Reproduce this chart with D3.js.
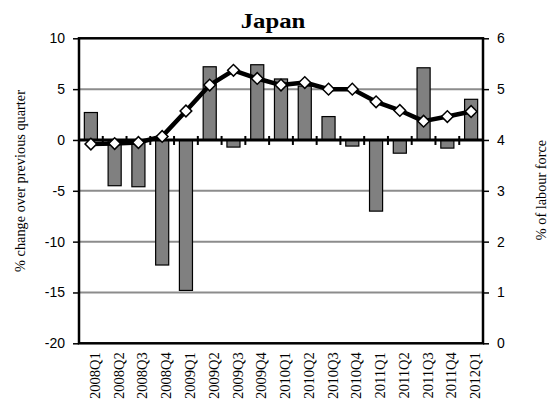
<!DOCTYPE html>
<html>
<head>
<meta charset="utf-8">
<script src="https://cdn.jsdelivr.net/npm/d3@7"></script>
<style>
  html, body { margin: 0; padding: 0; background: #fff; }
  svg { display: block; }
  .sans { font-family: 'Liberation Sans', Arial, sans-serif; }
  .serif { font-family: 'Liberation Serif', 'Times New Roman', serif; }
</style>
</head>
<body>
<svg id="chart" width="553" height="403"></svg>
<script>
const categories = ["2008Q1","2008Q2","2008Q3","2008Q4","2009Q1","2009Q2","2009Q3","2009Q4",
  "2010Q1","2010Q2","2010Q3","2010Q4","2011Q1","2011Q2","2011Q3","2011Q4","2012Q1"];
const changeValues = [2.7, -4.5, -4.6, -12.3, -14.8, 7.2, -0.7, 7.4, 6.0, 5.3, 2.3, -0.6, -7.0, -1.3, 7.1, -0.8, 4.0];
const unemploymentValues = [3.92, 3.93, 3.95, 4.07, 4.57, 5.08, 5.37, 5.21, 5.08, 5.13, 5.0, 5.0, 4.75, 4.58, 4.37, 4.46, 4.56];
const leftTicks = [-20, -15, -10, -5, 0, 5, 10];
const rightTicks = [0, 1, 2, 3, 4, 5, 6];
const title = "Japan";
const leftTitle = "% change over previous quarter";
const rightTitle = "% of labour force";

const svg = d3.select("#chart");
const L = 79, R = 483, T = 38.3, B = 343.3;

const x = d3.scaleBand().domain(categories).range([L, R]).paddingInner(0.45).paddingOuter(0.225);
const yL = d3.scaleLinear().domain([-20, 10]).range([B, T]);
const yR = d3.scaleLinear().domain([0, 6]).range([B, T]);
const fmt = d => String(d);

svg.append("rect").attr("width", 553).attr("height", 403).attr("fill", "#fff");

// gridlines
svg.append("g").selectAll("line").data(leftTicks.filter(d => d !== 0 && d !== 10 && d !== -20))
  .join("line")
  .attr("x1", L).attr("x2", R)
  .attr("y1", d => yL(d)).attr("y2", d => yL(d))
  .attr("stroke", "#8c8c8c").attr("stroke-width", 2);

// bars
svg.append("g").selectAll("rect").data(categories)
  .join("rect")
  .attr("x", d => x(d))
  .attr("width", x.bandwidth())
  .attr("y", (d, i) => yL(Math.max(0, changeValues[i])))
  .attr("height", (d, i) => Math.abs(yL(changeValues[i]) - yL(0)))
  .attr("fill", "#808080")
  .attr("stroke", "#000")
  .attr("stroke-width", 1.2);

// zero line with category ticks
svg.append("line").attr("x1", L).attr("x2", R).attr("y1", yL(0)).attr("y2", yL(0))
  .attr("stroke", "#000").attr("stroke-width", 3);
const step = x.step();
svg.append("g").selectAll("line").data(categories.slice(1))
  .join("line")
  .attr("x1", d => x(d) - x.paddingInner() * step / 2)
  .attr("x2", d => x(d) - x.paddingInner() * step / 2)
  .attr("y1", yL(0) - 4).attr("y2", yL(0) + 5)
  .attr("stroke", "#000").attr("stroke-width", 2);

// axes
const leftAxis = d3.axisLeft(yL).tickValues(leftTicks).tickFormat(fmt).tickSize(6).tickPadding(8);
const gL = svg.append("g").attr("transform", `translate(${L},0)`).call(leftAxis);
gL.attr("font-family", null).attr("font-size", null);
gL.select(".domain").remove();
gL.selectAll("line").attr("stroke", "#000").attr("stroke-width", 1.5);
gL.selectAll("text").attr("class", "sans").style("font-size", "14px").attr("fill", "#000");

const rightAxis = d3.axisRight(yR).tickValues(rightTicks).tickFormat(fmt).tickSize(6).tickPadding(8);
const gR = svg.append("g").attr("transform", `translate(${R},0)`).call(rightAxis);
gR.attr("font-family", null).attr("font-size", null);
gR.select(".domain").remove();
gR.selectAll("line").attr("stroke", "#000").attr("stroke-width", 1.5);
gR.selectAll("text").attr("class", "sans").style("font-size", "14px").attr("fill", "#000");

// frame
svg.append("rect").attr("x", L).attr("y", T).attr("width", R - L).attr("height", B - T)
  .attr("fill", "none").attr("stroke", "#000").attr("stroke-width", 2.5);

// x labels
svg.append("g").selectAll("text").data(categories)
  .join("text")
  .attr("class", "serif")
  .attr("transform", d => `translate(${x(d) + x.bandwidth() / 2 + 4},${B + 9}) rotate(-90)`)
  .attr("text-anchor", "end")
  .attr("dy", "0.35em")
  .style("font-size", "14.5px")
  .attr("fill", "#000")
  .text(d => d);

// line
const line = d3.line()
  .x((d, i) => x(categories[i]) + x.bandwidth() / 2)
  .y(d => yR(d));
svg.append("path").datum(unemploymentValues)
  .attr("d", line)
  .attr("fill", "none").attr("stroke", "#000").attr("stroke-width", 4.5)
  .attr("stroke-linejoin", "round");

svg.append("g").selectAll("path").data(unemploymentValues)
  .join("path")
  .attr("transform", (d, i) => `translate(${x(categories[i]) + x.bandwidth() / 2},${yR(d)}) rotate(45)`)
  .attr("d", d3.symbol().type(d3.symbolSquare).size(68)())
  .attr("fill", "#fff").attr("stroke", "#000").attr("stroke-width", 1.5);

// titles
svg.append("text").attr("class", "serif")
  .attr("transform", "translate(273,28) scale(1.18,1)")
  .attr("text-anchor", "middle")
  .style("font-weight", "bold").style("font-size", "21px")
  .text(title);

svg.append("text").attr("class", "serif")
  .attr("transform", `translate(20,181) rotate(-90)`)
  .attr("text-anchor", "middle").attr("dy", "0.35em")
  .style("font-size", "14.3px")
  .text(leftTitle);

svg.append("text").attr("class", "serif")
  .attr("transform", `translate(541,190) rotate(-90)`)
  .attr("text-anchor", "middle").attr("dy", "0.35em")
  .style("font-size", "14.3px")
  .text(rightTitle);
</script>
</body>
</html>
